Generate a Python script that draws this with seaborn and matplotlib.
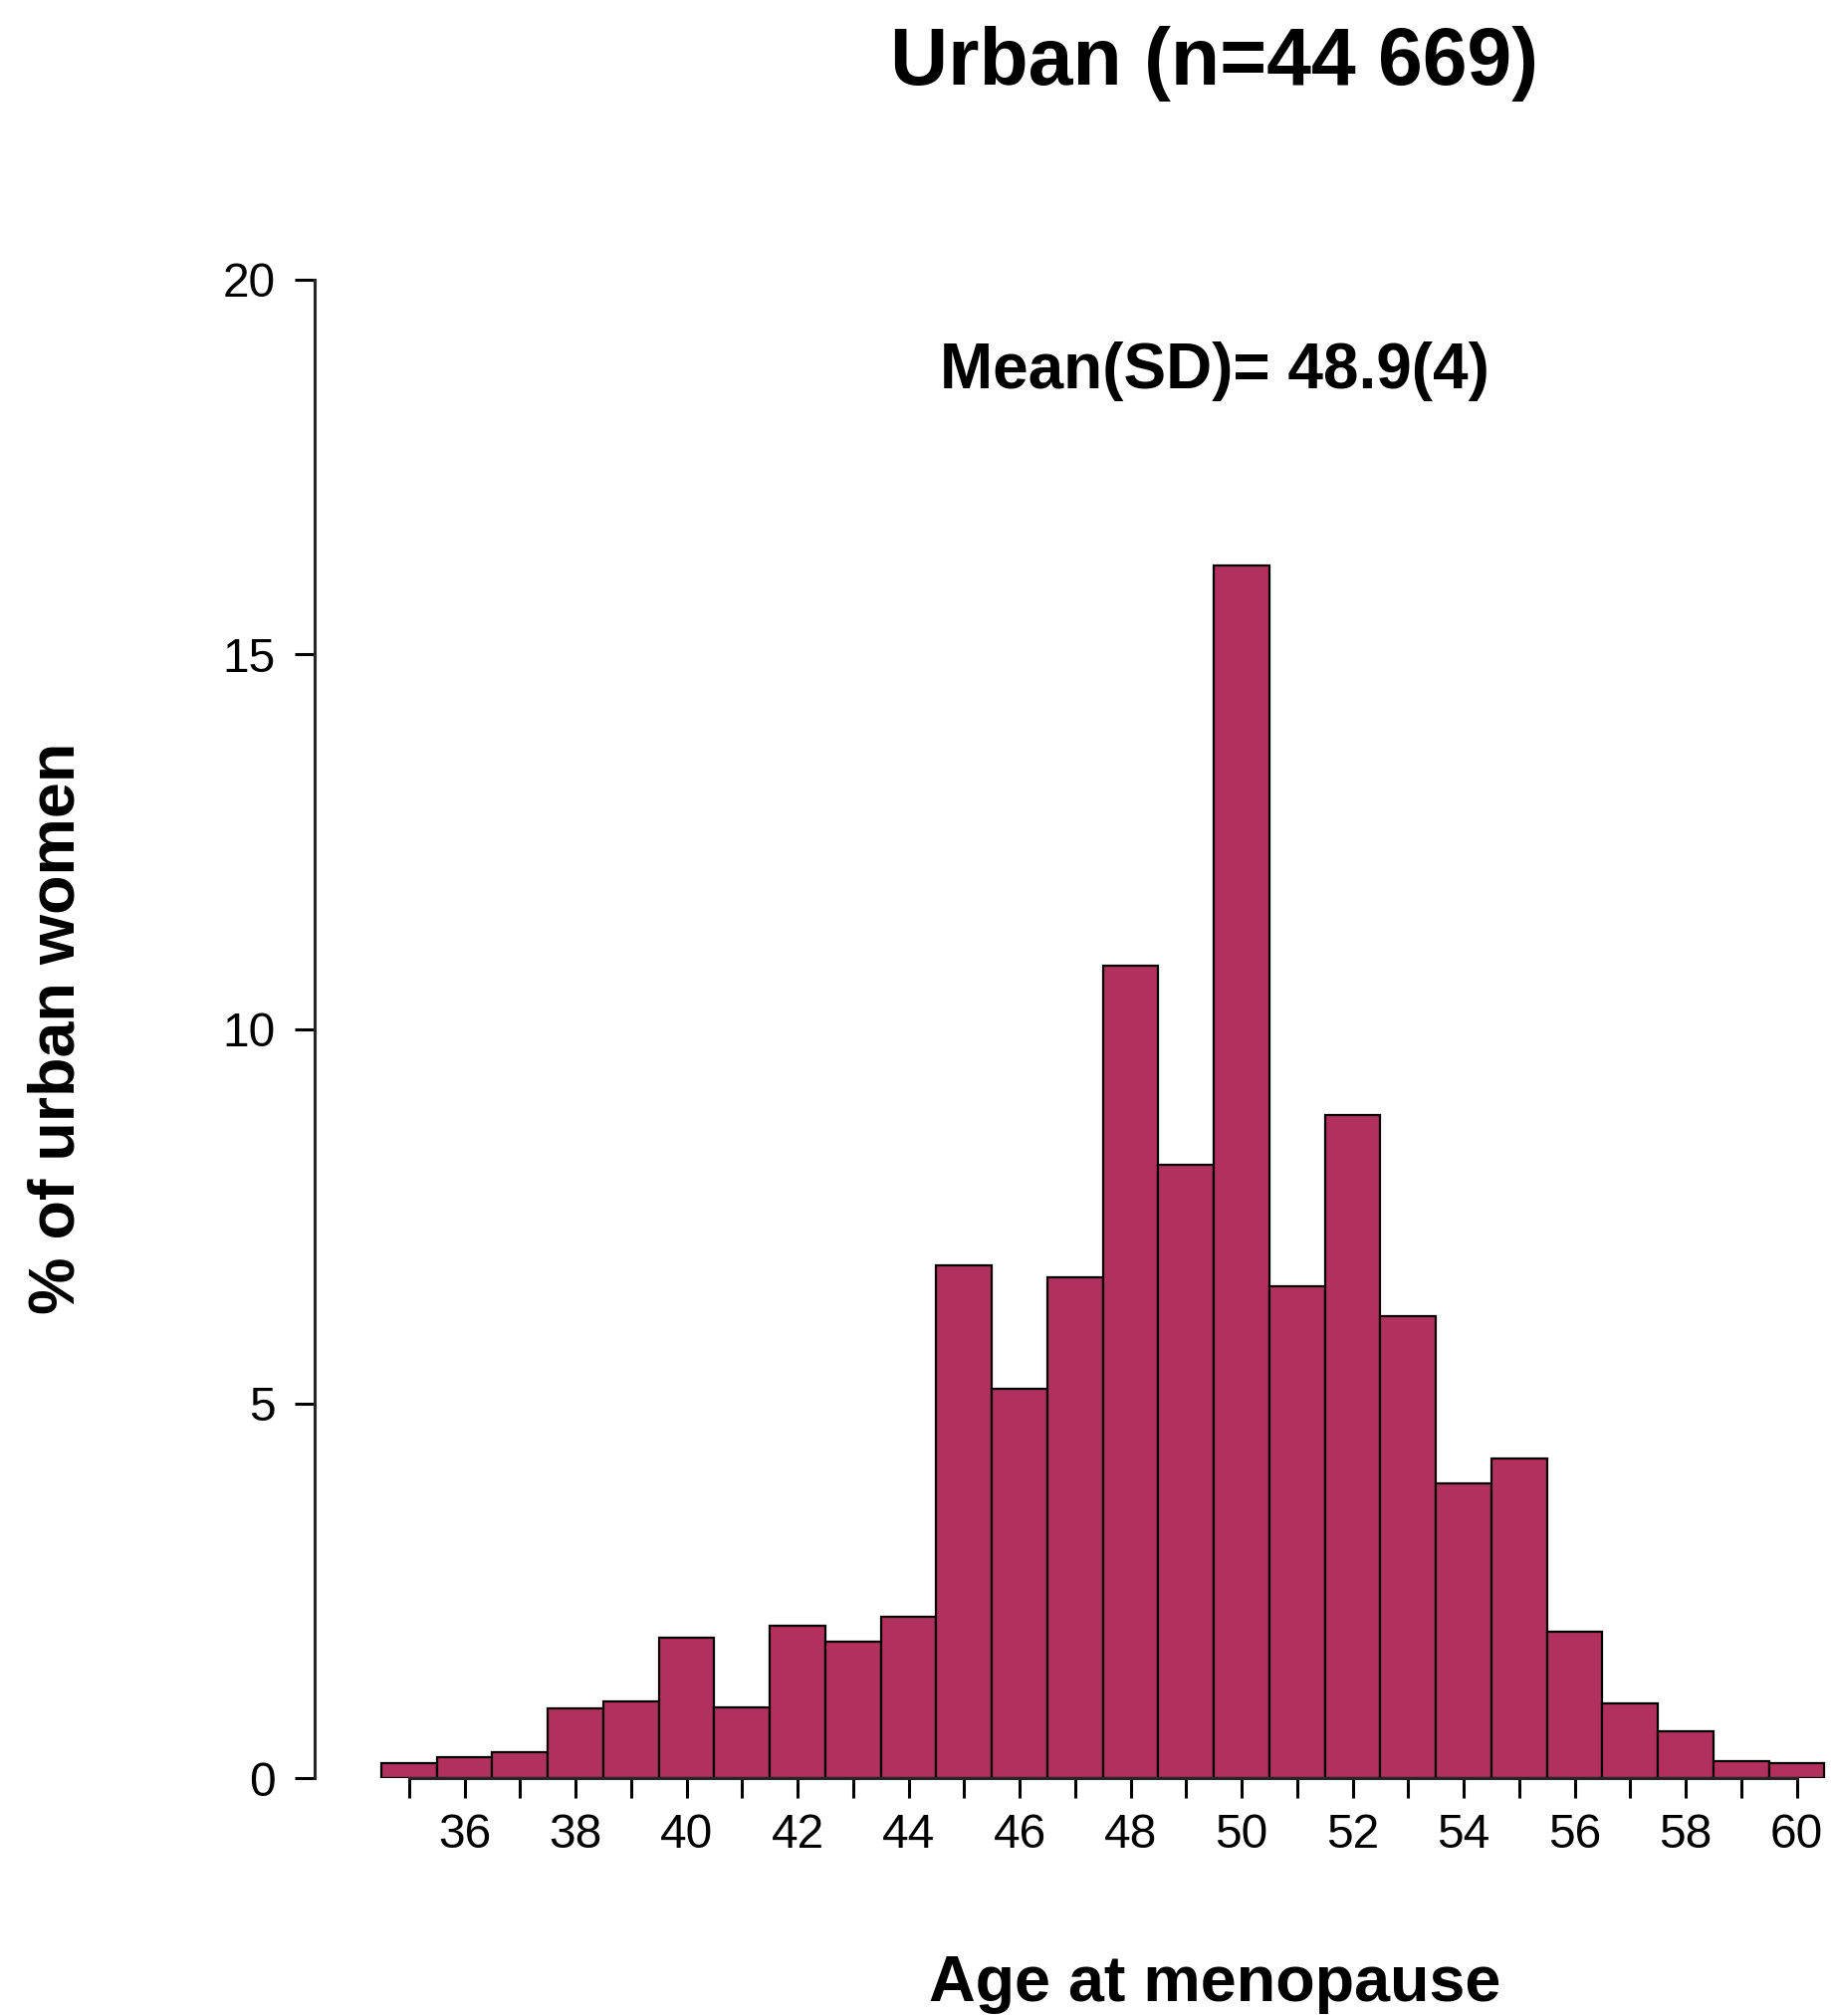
import matplotlib
matplotlib.use("Agg")
import matplotlib.pyplot as plt
import seaborn as sns
import pandas as pd

# Age at menopause (years) and share of urban women (%) per single year of age
ages = [35, 36, 37, 38, 39, 40, 41, 42, 43, 44, 45, 46, 47,
        48, 49, 50, 51, 52, 53, 54, 55, 56, 57, 58, 59, 60]
pct_women = [0.20, 0.28, 0.34, 0.93, 1.02, 1.88, 0.95, 2.03, 1.82, 2.15, 6.85, 5.19, 6.68,
             10.84, 8.18, 16.19, 6.56, 8.85, 6.17, 3.94, 4.26, 1.95, 1.00, 0.63, 0.23, 0.20]

y_ticks = [0, 5, 10, 15, 20]
x_ticks = ages
x_labels = [str(a) if a % 2 == 0 else "" for a in ages]

title_text = "Urban (n=44 669)"
stat_text = "Mean(SD)= 48.9(4)"
x_title = "Age at menopause"
y_title = "% of urban women"

df = pd.DataFrame({"age": ages, "pct": pct_women})

sns.set_theme(style="ticks")
plt.rcParams["font.family"] = ["Liberation Sans", "DejaVu Sans"]

W, H = 1840, 2025
fig = plt.figure(figsize=(W / 100, H / 100), dpi=100)
fig.patch.set_facecolor("white")

left_px, right_px = 316, 1838
top_px, base_px = 281, 1786
ax = fig.add_axes([left_px / W, 1 - base_px / H, (right_px - left_px) / W, (base_px - top_px) / H])
ax.set_facecolor("white")

sns.histplot(data=df, x="age", weights="pct", discrete=True, stat="count",
             color="#B0305E", edgecolor="black", linewidth=1.6, alpha=1.0, ax=ax)

ax.set_xlim(33.3, 60.6)
ax.set_ylim(0, 20)
ax.set_xlabel("")
ax.set_ylabel("")

ax.set_yticks(y_ticks)
ax.set_yticklabels([str(t) for t in y_ticks])
ax.set_xticks(x_ticks)
ax.set_xticklabels(x_labels)

for side in ("top", "right"):
    ax.spines[side].set_visible(False)
ax.spines["left"].set_bounds(0, 20)
ax.spines["bottom"].set_bounds(35, 60)
ax.spines["left"].set_linewidth(2.2)
ax.spines["bottom"].set_linewidth(2.2)
ax.spines["left"].set_zorder(5)
ax.spines["bottom"].set_zorder(5)

ax.tick_params(axis="both", direction="out", length=14.5, width=2.2, colors="black",
               labelsize=34.5, labelcolor="black")
ax.tick_params(axis="y", pad=14)
ax.tick_params(axis="x", pad=10.5)
for lab in ax.get_xticklabels() + ax.get_yticklabels():
    lab.set_clip_on(False)

cx = 1220 / W
fig.text(cx, 1 - 85 / H, title_text, ha="center", va="baseline",
         fontsize=58, fontweight="bold", color="black")
fig.text(cx, 1 - 390 / H, stat_text, ha="center", va="baseline",
         fontsize=46, fontweight="bold", color="black")
fig.text(cx, 1 - 2010 / H, x_title, ha="center", va="baseline",
         fontsize=46.5, fontweight="bold", color="black")
fig.text(58 / W, 1 - 1033 / H, y_title, ha="center", va="center", rotation=90,
         fontsize=46.5, fontweight="bold", color="black")

fig.savefig("out.png", dpi=100, facecolor="white")
